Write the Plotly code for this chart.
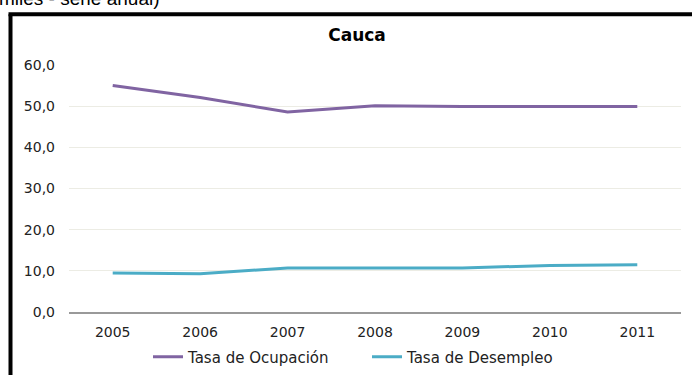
import plotly.graph_objects as go

years = ['2005', '2006', '2007', '2008', '2009', '2010', '2011']
ocupacion = [55.0, 52.1, 48.6, 50.1, 49.9, 49.9, 49.9]
desempleo = [9.5, 9.3, 10.7, 10.7, 10.7, 11.3, 11.5]

W, H = 692, 375

# plot area in screen pixels
X0, X1, Y0, Y1 = 69, 681, 64.5, 312.5
L = X0
R = W - X1
T = Y0
B = H - Y1

fig = go.Figure()
fig.add_trace(go.Scatter(x=years, y=ocupacion, mode='lines', name='Tasa de Ocupación',
                         line=dict(color='#8064A2', width=3)))
fig.add_trace(go.Scatter(x=years, y=desempleo, mode='lines', name='Tasa de Desempleo',
                         line=dict(color='#4BACC6', width=3)))

def px_x(x):
    return (x - X0) / (X1 - X0)

def px_y(y):
    return (Y1 - y) / (Y1 - Y0)

# black frame (left and top edges visible)
fig.add_shape(type='line', xref='paper', yref='paper',
              x0=px_x(10.5), y0=px_y(390), x1=px_x(10.5), y1=px_y(13.5),
              line=dict(color='black', width=4))
fig.add_shape(type='line', xref='paper', yref='paper',
              x0=px_x(8.5), y0=px_y(13.5), x1=px_x(710), y1=px_y(13.5),
              line=dict(color='black', width=4))

# cut-off caption at the very top
fig.add_annotation(text='miles - serie anual)', xref='paper', yref='paper',
                   x=px_x(-3), y=px_y(10), xanchor='left', yanchor='bottom',
                   showarrow=False, font=dict(family='Liberation Sans, Arial', size=19, color='black'))

fig.update_layout(
    width=W, height=H,
    margin=dict(l=L, r=R, t=T, b=B, autoexpand=False),
    paper_bgcolor='white', plot_bgcolor='white',
    font=dict(family='DejaVu Sans', size=14, color='#222'),
    separators=',.',
    title=dict(text='<b>Cauca</b>', x=357 / W, xref='container', xanchor='center',
               y=1 - 35 / H, yanchor='middle',
               font=dict(family='DejaVu Sans', size=17, color='black')),
    showlegend=True,
    legend=dict(orientation='h', x=148 / W, xref='container', xanchor='left',
                y=1 - 357 / H, yref='container', yanchor='middle',
                entrywidth=174, entrywidthmode='pixels',
                font=dict(size=15, color='#222')),
    xaxis=dict(type='category', range=[-0.5, 6.5], showgrid=False, showline=True,
               linecolor='#999', linewidth=1.5,
               ticks='', ticklabelstandoff=6, zeroline=False, automargin=False),
    yaxis=dict(range=[0, 60], dtick=10, tickformat='.1f', showgrid=True,
               gridcolor='#ecece4', gridwidth=1, zeroline=False, showline=False,
               ticks='', ticklabelstandoff=13, automargin=False),
)

# drop the default page margin so the figure sits at the window's corner
fig.write_html('out.html', config={'displayModeBar': False},
               post_script="document.body.style.margin='0';")
